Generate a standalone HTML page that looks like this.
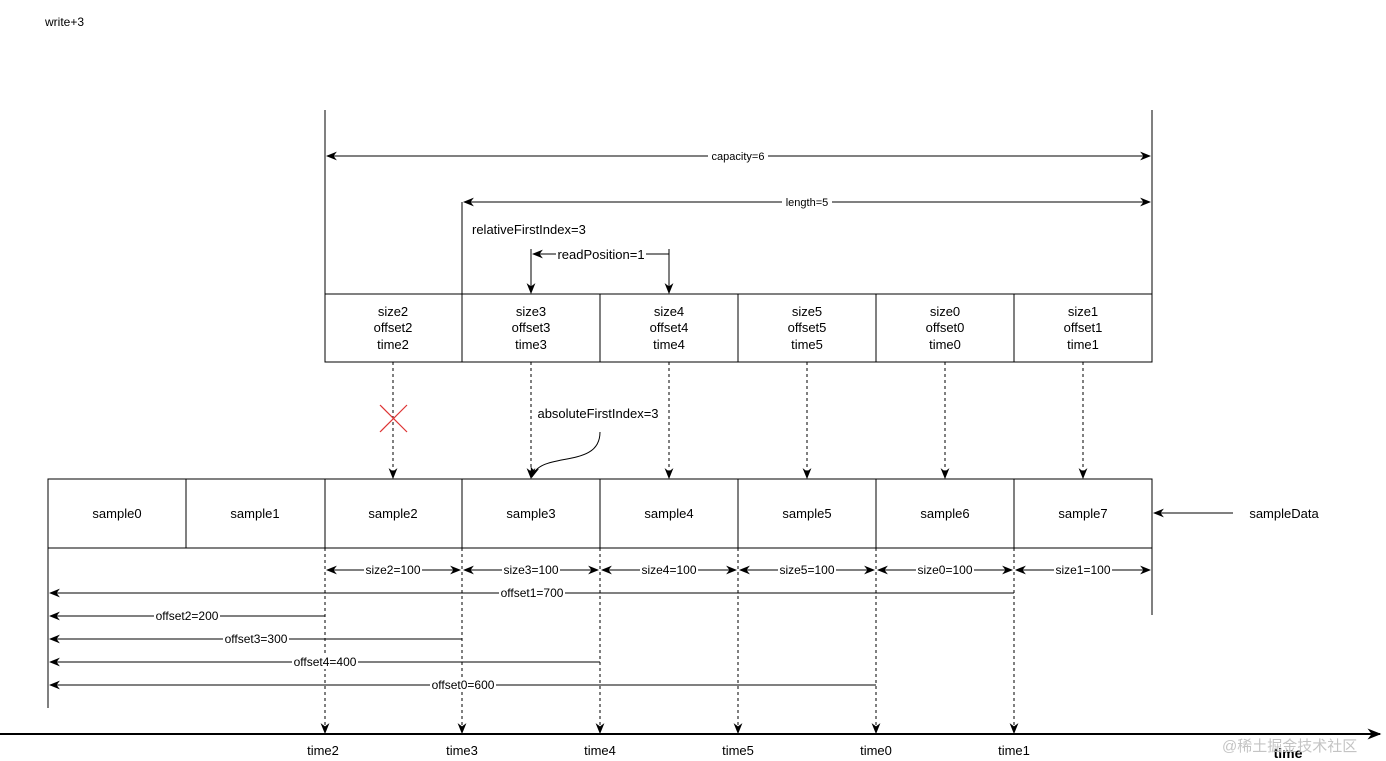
<!DOCTYPE html>
<html><head><meta charset="utf-8"><style>
html,body{margin:0;padding:0;background:#fff;}
svg{display:block;font-family:"Liberation Sans",Arial,sans-serif;}
</style></head><body>
<svg width="1386" height="761" viewBox="0 0 1386 761" xmlns="http://www.w3.org/2000/svg">
<defs>
<marker id="a" viewBox="0 0 10 10" refX="9" refY="5" markerWidth="11" markerHeight="11" orient="auto-start-reverse" markerUnits="userSpaceOnUse"><path d="M0,1 L10,5 L0,9 L3,5 Z" fill="#000"/></marker>
<marker id="b" viewBox="0 0 10 10" refX="9" refY="5" markerWidth="14" markerHeight="14" orient="auto" markerUnits="userSpaceOnUse"><path d="M0,1 L10,5 L0,9 L3,5 Z" fill="#000"/></marker>
</defs>
<rect width="1386" height="761" fill="#fff"/>
<text x="45" y="26" font-size="12">write+3</text>
<g stroke="#000" stroke-width="1" fill="none">
<line x1="325" y1="110" x2="325" y2="294"/>
<line x1="1152" y1="110" x2="1152" y2="294"/>
<line x1="462" y1="202" x2="462" y2="294"/>
<line x1="327" y1="156" x2="1150" y2="156" marker-start="url(#a)" marker-end="url(#a)"/>
<line x1="464" y1="202" x2="1150" y2="202" marker-start="url(#a)" marker-end="url(#a)"/>
<line x1="669" y1="254" x2="533" y2="254" marker-end="url(#a)"/>
<line x1="531" y1="249" x2="531" y2="293" marker-end="url(#a)"/>
<line x1="669" y1="249" x2="669" y2="293" marker-end="url(#a)"/>
<rect x="325" y="294" width="827" height="68"/>
<line x1="462" y1="294" x2="462" y2="362"/><line x1="600" y1="294" x2="600" y2="362"/><line x1="738" y1="294" x2="738" y2="362"/><line x1="876" y1="294" x2="876" y2="362"/><line x1="1014" y1="294" x2="1014" y2="362"/>
<rect x="48" y="479" width="1104" height="69"/>
<line x1="186" y1="479" x2="186" y2="548"/><line x1="325" y1="479" x2="325" y2="548"/><line x1="462" y1="479" x2="462" y2="548"/><line x1="600" y1="479" x2="600" y2="548"/><line x1="738" y1="479" x2="738" y2="548"/><line x1="876" y1="479" x2="876" y2="548"/><line x1="1014" y1="479" x2="1014" y2="548"/>
<line x1="48" y1="548" x2="48" y2="708"/>
<line x1="1152" y1="548" x2="1152" y2="615"/>
<line x1="1233" y1="513" x2="1154" y2="513" marker-end="url(#a)"/>
<path d="M600,432 C600,470 540,450 532,477" marker-end="url(#a)"/>
<g stroke-dasharray="3,3">
<line x1="393" y1="362" x2="393" y2="478" marker-end="url(#a)"/>
<line x1="531" y1="362" x2="531" y2="478" marker-end="url(#a)"/>
<line x1="669" y1="362" x2="669" y2="478" marker-end="url(#a)"/>
<line x1="807" y1="362" x2="807" y2="478" marker-end="url(#a)"/>
<line x1="945" y1="362" x2="945" y2="478" marker-end="url(#a)"/>
<line x1="1083" y1="362" x2="1083" y2="478" marker-end="url(#a)"/>
<line x1="325" y1="548" x2="325" y2="733" marker-end="url(#a)"/>
<line x1="462" y1="548" x2="462" y2="733" marker-end="url(#a)"/>
<line x1="600" y1="548" x2="600" y2="733" marker-end="url(#a)"/>
<line x1="738" y1="548" x2="738" y2="733" marker-end="url(#a)"/>
<line x1="876" y1="548" x2="876" y2="733" marker-end="url(#a)"/>
<line x1="1014" y1="548" x2="1014" y2="733" marker-end="url(#a)"/>
</g>
<line x1="327" y1="570" x2="460" y2="570" marker-start="url(#a)" marker-end="url(#a)"/>
<line x1="464" y1="570" x2="598" y2="570" marker-start="url(#a)" marker-end="url(#a)"/>
<line x1="602" y1="570" x2="736" y2="570" marker-start="url(#a)" marker-end="url(#a)"/>
<line x1="740" y1="570" x2="874" y2="570" marker-start="url(#a)" marker-end="url(#a)"/>
<line x1="878" y1="570" x2="1012" y2="570" marker-start="url(#a)" marker-end="url(#a)"/>
<line x1="1016" y1="570" x2="1150" y2="570" marker-start="url(#a)" marker-end="url(#a)"/>
<line x1="1014" y1="593" x2="50" y2="593" marker-end="url(#a)"/>
<line x1="325" y1="616" x2="50" y2="616" marker-end="url(#a)"/>
<line x1="462" y1="639" x2="50" y2="639" marker-end="url(#a)"/>
<line x1="600" y1="662" x2="50" y2="662" marker-end="url(#a)"/>
<line x1="876" y1="685" x2="50" y2="685" marker-end="url(#a)"/>
<line x1="0" y1="734" x2="1380" y2="734" stroke-width="2" marker-end="url(#b)"/>
</g>
<g stroke="#d33" stroke-width="1.2"><line x1="380" y1="405" x2="407" y2="432"/><line x1="407" y1="405" x2="380" y2="432"/></g>
<g font-size="12" text-anchor="middle" fill="#000">
<g fill="#fff" stroke="none">
<rect x="708" y="149" width="60" height="14"/><rect x="782" y="195" width="50" height="14"/>
<rect x="556" y="247" width="90" height="14"/>
<rect x="364" y="563" width="58" height="14"/><rect x="502" y="563" width="58" height="14"/><rect x="640" y="563" width="58" height="14"/><rect x="778" y="563" width="58" height="14"/><rect x="916" y="563" width="58" height="14"/><rect x="1054" y="563" width="58" height="14"/>
<rect x="499" y="586" width="66" height="14"/><rect x="154" y="609" width="66" height="14"/><rect x="223" y="632" width="66" height="14"/><rect x="292" y="655" width="66" height="14"/><rect x="430" y="678" width="66" height="14"/>
</g>
<text x="738" y="160" font-size="11">capacity=6</text>
<text x="807" y="206" font-size="11">length=5</text>
<text x="601" y="259" font-size="13">readPosition=1</text>
<text x="472" y="234" text-anchor="start" font-size="13">relativeFirstIndex=3</text>
<text x="598" y="418" font-size="13">absoluteFirstIndex=3</text>
<g font-size="13">
<text x="393" y="316">size2</text><text x="393" y="332">offset2</text><text x="393" y="349">time2</text>
<text x="531" y="316">size3</text><text x="531" y="332">offset3</text><text x="531" y="349">time3</text>
<text x="669" y="316">size4</text><text x="669" y="332">offset4</text><text x="669" y="349">time4</text>
<text x="807" y="316">size5</text><text x="807" y="332">offset5</text><text x="807" y="349">time5</text>
<text x="945" y="316">size0</text><text x="945" y="332">offset0</text><text x="945" y="349">time0</text>
<text x="1083" y="316">size1</text><text x="1083" y="332">offset1</text><text x="1083" y="349">time1</text>
<text x="117" y="518">sample0</text><text x="255" y="518">sample1</text><text x="393" y="518">sample2</text><text x="531" y="518">sample3</text><text x="669" y="518">sample4</text><text x="807" y="518">sample5</text><text x="945" y="518">sample6</text><text x="1083" y="518">sample7</text>
<text x="1284" y="518">sampleData</text>
</g>
<g font-size="12">
<text x="393" y="574">size2=100</text><text x="531" y="574">size3=100</text><text x="669" y="574">size4=100</text><text x="807" y="574">size5=100</text><text x="945" y="574">size0=100</text><text x="1083" y="574">size1=100</text>
<text x="532" y="597">offset1=700</text><text x="187" y="620">offset2=200</text><text x="256" y="643">offset3=300</text><text x="325" y="666">offset4=400</text><text x="463" y="689">offset0=600</text>
</g>
<g font-size="13"><text x="323" y="755">time2</text><text x="462" y="755">time3</text><text x="600" y="755">time4</text><text x="738" y="755">time5</text><text x="876" y="755">time0</text><text x="1014" y="755">time1</text></g>
<text x="1288" y="758" font-weight="bold" font-size="14">time</text>
<text x="1222" y="751" font-size="15" fill="#c4c4c4" text-anchor="start" font-family="'Liberation Sans','Noto Sans CJK SC',sans-serif">@稀土掘金技术社区</text>
</g>
</svg>
</body></html>
